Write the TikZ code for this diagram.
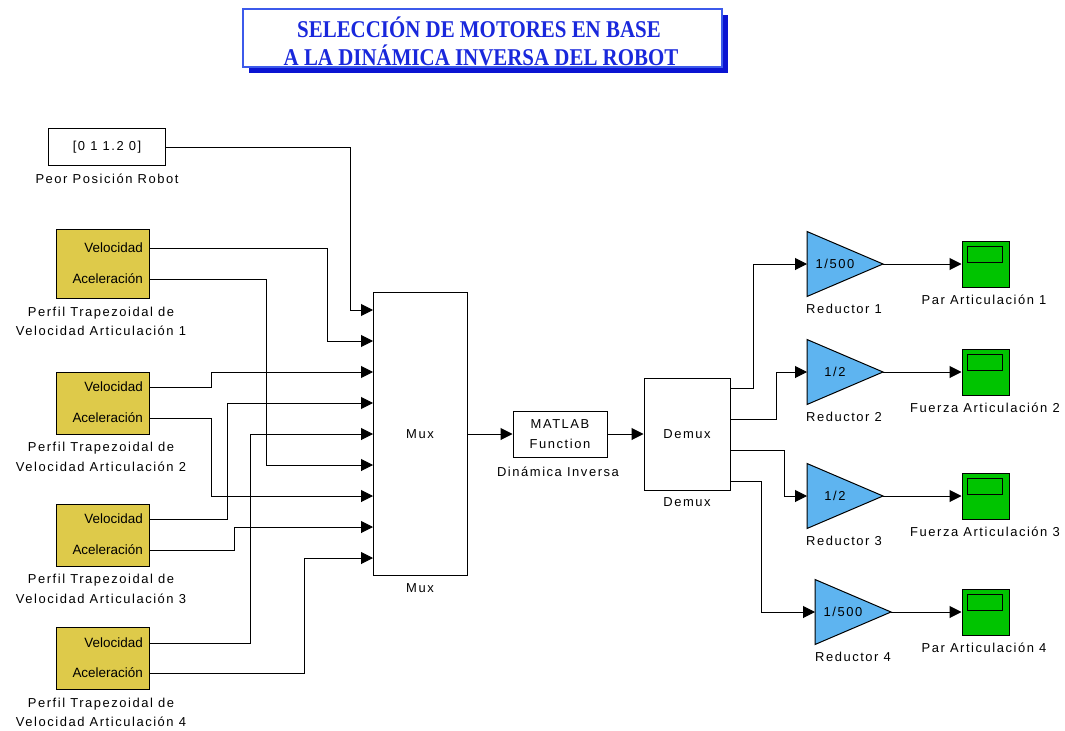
\documentclass[tikz,border=0pt]{standalone}
\usepackage{fontspec}
\setmainfont{Liberation Sans}
\newfontfamily\lblfont[LetterSpace=12]{Liberation Sans}
\newfontfamily\titlefont{Liberation Serif}
\usetikzlibrary{arrows.meta,calc}
\definecolor{simyellow}{RGB}{222,202,74}
\definecolor{simgreen}{RGB}{0,196,0}
\definecolor{simblue}{RGB}{94,180,240}
\definecolor{titletext}{RGB}{25,40,220}
\definecolor{titleborder}{RGB}{60,90,235}
\definecolor{titleshadow}{RGB}{10,20,210}
\newcommand{\ttltext}[1]{\scalebox{1}[1.15]{#1}}
\begin{document}
\begin{tikzpicture}[x=1bp,y=-1bp,
  sig/.style={draw=black, line width=1bp, -{Triangle[length=12bp,width=12bp]}},
  blk/.style={draw=black, line width=1bp, inner sep=0pt, fill=white},
  yblk/.style={blk, fill=simyellow, minimum width=93bp},
  scopebox/.style={blk, fill=simgreen, minimum width=47bp, minimum height=46bp},
  gainshape/.style={draw=black, line width=1bp, fill=simblue},
  lbl/.style={font=\lblfont\fontsize{13}{19.5}\selectfont, align=center, inner sep=0pt},
  port/.style={font=\fontsize{13.5}{15}\selectfont, inner sep=0pt, anchor=east},
  ttl/.style={font=\titlefont\bfseries\fontsize{21}{26}\selectfont, text=titletext, inner sep=0pt}]
\useasboundingbox (0,0) rectangle (1065,731);

% Title
\fill[titleshadow] (249,15) rectangle (728,73);
\node[draw=titleborder, line width=1.3bp, fill=white, minimum width=479bp, minimum height=58bp, inner sep=0pt] (tbox) at (482.5,38) {};
\node[ttl] (t1) at (479,27) {\ttltext{SELECCIÓN DE MOTORES EN BASE}};
\node[ttl] (t2) at (481,55) {\ttltext{A LA DINÁMICA INVERSA DEL ROBOT}};

% Constant
\node[blk, minimum width=116bp, minimum height=37bp, lbl] (const) at (107,147.5) {[0 1 1.2 0]};
\node[lbl] (constlbl) at (107,179) {Peor Posición Robot};

% Trapezoidal profile blocks
\node[yblk, minimum height=69bp] (p1) at (102.5,263.5) {};
\node[yblk, minimum height=62bp] (p2) at (102.5,403) {};
\node[yblk, minimum height=62bp] (p3) at (102.5,535) {};
\node[yblk, minimum height=62bp] (p4) at (102.5,658) {};
\node[port] (p1vt) at (143,248) {Velocidad};
\node[port] (p1at) at (143,279) {Aceleración};
\node[port] (p2vt) at (143,387) {Velocidad};
\node[port] (p2at) at (143,418) {Aceleración};
\node[port] (p3vt) at (143,519) {Velocidad};
\node[port] (p3at) at (143,550) {Aceleración};
\node[port] (p4vt) at (143,643) {Velocidad};
\node[port] (p4at) at (143,673) {Aceleración};
\coordinate (p1v) at (149,248); \coordinate (p1a) at (149,279);
\coordinate (p2v) at (149,387); \coordinate (p2a) at (149,418);
\coordinate (p3v) at (149,519); \coordinate (p3a) at (149,550);
\coordinate (p4v) at (149,643); \coordinate (p4a) at (149,673);
\node[lbl] (p1l) at (101,321.5) {Perfil Trapezoidal de\\Velocidad Articulación 1};
\node[lbl] (p2l) at (101,457) {Perfil Trapezoidal de\\Velocidad Articulación 2};
\node[lbl] (p3l) at (101,589) {Perfil Trapezoidal de\\Velocidad Articulación 3};
\node[lbl] (p4l) at (101,712.5) {Perfil Trapezoidal de\\Velocidad Articulación 4};

% Mux
\node[blk, minimum width=94bp, minimum height=282bp, lbl] (mux) at (420,434) {Mux};
\node[lbl] (muxl) at (420,588) {Mux};
\foreach \i/\yy in {1/310,2/341,3/372,4/403,5/434,6/465,7/496,8/527,9/558}
  \coordinate (m\i) at (373,\yy);

% MATLAB function
\node[blk, minimum width=94bp, minimum height=46bp, lbl] (fcn) at (560,434) {MATLAB\\Function};
\node[lbl] (fcnl) at (558,472) {Dinámica Inversa};

% Demux
\node[blk, minimum width=86bp, minimum height=112bp, lbl] (demux) at (687,434) {Demux};
\node[lbl] (demuxl) at (687,502) {Demux};
\coordinate (d1) at (730,388); \coordinate (d2) at (730,419);
\coordinate (d3) at (730,450); \coordinate (d4) at (730,481);

% Gains
\draw[gainshape] (807,231.5) -- (883,264) -- (807,296.5) -- cycle;
\draw[gainshape] (807,339.5) -- (883,372) -- (807,404.5) -- cycle;
\draw[gainshape] (807,463.5) -- (883,496) -- (807,528.5) -- cycle;
\draw[gainshape] (815,579.5) -- (891,612) -- (815,644.5) -- cycle;
\node[lbl] (g1) at (835,264) {1/500};
\node[lbl] (g2) at (835,372) {1/2};
\node[lbl] (g3) at (835,496) {1/2};
\node[lbl] (g4) at (843,612) {1/500};
\coordinate (g1in) at (807,264); \coordinate (g1out) at (883,264);
\coordinate (g2in) at (807,372); \coordinate (g2out) at (883,372);
\coordinate (g3in) at (807,496); \coordinate (g3out) at (883,496);
\coordinate (g4in) at (815,612); \coordinate (g4out) at (891,612);
\node[lbl] (g1l) at (844,309) {Reductor 1};
\node[lbl] (g2l) at (844,417) {Reductor 2};
\node[lbl] (g3l) at (844,541) {Reductor 3};
\node[lbl] (g4l) at (853,657) {Reductor 4};

% Scopes
\foreach \k/\yy in {1/264,2/372,3/496,4/612}{
  \node[scopebox] (s\k) at (985.5,\yy) {};
  \draw[line width=1bp] ($(s\k.north west)+(6,6)$) rectangle ++(35,16);
}
\node[lbl] (s1l) at (984,300) {Par Articulación 1};
\node[lbl] (s2l) at (985,408) {Fuerza Articulación 2};
\node[lbl] (s3l) at (985,532) {Fuerza Articulación 3};
\node[lbl] (s4l) at (984,648) {Par Articulación 4};

% Connectors into Mux
\draw[sig] (const.east) -| (350,310) -- (m1);
\draw[sig] (p1v) -| (327,341) -- (m2);
\draw[sig] (p2v) -| (211,372) -- (m3);
\draw[sig] (p3v) -| (227,403) -- (m4);
\draw[sig] (p4v) -| (250,434) -- (m5);
\draw[sig] (p1a) -| (266,465) -- (m6);
\draw[sig] (p2a) -| (211,496) -- (m7);
\draw[sig] (p3a) -| (234,527) -- (m8);
\draw[sig] (p4a) -| (304,558) -- (m9);

% Main chain
\draw[sig] (mux.east) -- (fcn.west);
\draw[sig] (fcn.east) -- (demux.west);

% Demux to gains
\draw[sig] (d1) -| (753,264) -- (g1in);
\draw[sig] (d2) -| (776,372) -- (g2in);
\draw[sig] (d3) -| (784,496) -- (g3in);
\draw[sig] (d4) -| (761,612) -- (g4in);

% Gains to scopes
\draw[sig] (g1out) -- (s1.west);
\draw[sig] (g2out) -- (s2.west);
\draw[sig] (g3out) -- (s3.west);
\draw[sig] (g4out) -- (s4.west);
\end{tikzpicture}
\end{document}
